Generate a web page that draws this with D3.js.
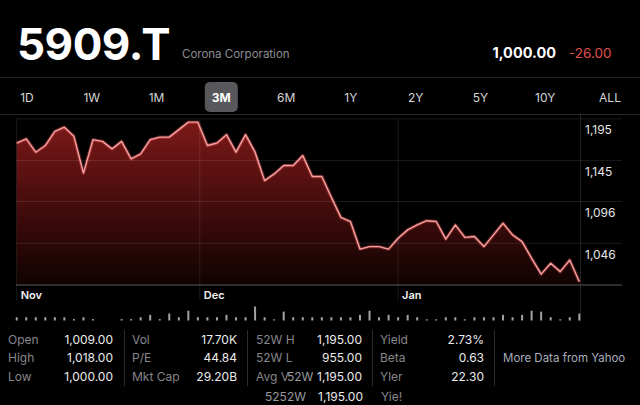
<!DOCTYPE html>
<html>
<head>
<meta charset="utf-8">
<title>5909.T</title>
<script src="https://d3js.org/d3.v7.min.js"></script>
<style>
  html, body { margin: 0; padding: 0; background: #000; }
  svg { display: block; font-family: Inter, "Noto Sans", sans-serif; }
</style>
</head>
<body>
<div id="chart"></div>
<script>
  // ---- data ----
  var ticker = "5909.T";
  var company = "Corona Corporation";
  var lastPrice = "1,000.00";
  var change = "-26.00";

  var ranges = ["1D", "1W", "1M", "3M", "6M", "1Y", "2Y", "5Y", "10Y", "ALL"];
  var selectedRange = "3M";

  // daily closes, Nov -> Jan
  var prices = [
    1166, 1171, 1155, 1163, 1180, 1185, 1174, 1130, 1170, 1168,
    1159, 1168, 1147, 1153, 1170, 1173, 1173, 1182, 1191, 1191,
    1163, 1166, 1176, 1155, 1176, 1155, 1121, 1129, 1139, 1139,
    1151, 1126, 1126, 1101, 1077, 1072, 1039, 1042, 1042, 1039,
    1052, 1062, 1068, 1073, 1072, 1051, 1068, 1053, 1054, 1042,
    1056, 1070, 1056, 1048, 1028, 1009, 1022, 1012, 1026, 1000
  ];

  // daily volume (K shares)
  var volumes = [
    14, 14, 14, 14, 14, 14, 6, 14, 6, 0,
    0, 6, 6, 14, 24, 6, 30, 14, 42, 14,
    14, 14, 24, 14, 14, 60, 14, 5, 38, 14,
    14, 14, 14, 14, 14, 14, 24, 42, 14, 24,
    14, 24, 14, 5, 5, 14, 14, 5, 14, 14,
    14, 24, 14, 24, 42, 38, 14, 5, 14, 30
  ];

  var monthLabels = ["Nov", "Dec", "Jan"];
  var monthIndex = [0, 19.2, 40.0];

  var yTicks = [1195, 1145, 1096, 1046];

  var col1Labels = ["Open", "High", "Low"];
  var col1Values = ["1,009.00", "1,018.00", "1,000.00"];
  var col2Labels = ["Vol", "P/E", "Mkt Cap"];
  var col2Values = ["17.70K", "44.84", "29.20B"];
  var col3Labels = ["52W H", "52W L", "Avg V"];
  var col3Values = ["1,195.00", "955.00", "1,195.00"];
  var col4Labels = ["Yield", "Beta", "Yler"];
  var col4Values = ["2.73%", "0.63", "22.30"];
  var moreText = "More Data from Yahoo";

  // ---- layout ----
  const width = 640, height = 405;

  var svg = d3.select("#chart").append("svg")
    .attr("width", width)
    .attr("height", height);

  svg.append("rect").attr("width", width).attr("height", height).attr("fill", "#000");

  // header
  svg.append("text")
    .attr("x", 17).attr("y", 60)
    .attr("fill", "#fff")
    .attr("font-size", 44).attr("font-weight", 700)
    .attr("letter-spacing", -0.5)
    .text(ticker);

  svg.append("text")
    .attr("x", 182).attr("y", 58)
    .attr("fill", "#8e8e93")
    .attr("font-size", 11.5)
    .text(company);

  svg.append("text")
    .attr("x", 556).attr("y", 58)
    .attr("text-anchor", "end")
    .attr("fill", "#fff")
    .attr("font-size", 14.5).attr("font-weight", 700)
    .text(lastPrice);

  svg.append("text")
    .attr("x", 569).attr("y", 58)
    .attr("fill", "#e0524c")
    .attr("font-size", 13.5)
    .text(change);

  // separators
  svg.append("line").attr("x1", 0).attr("x2", width).attr("y1", 77.5).attr("y2", 77.5)
    .attr("stroke", "#262628");
  svg.append("line").attr("x1", 0).attr("x2", width).attr("y1", 114.5).attr("y2", 114.5)
    .attr("stroke", "#262628");

  // range selector
  var rangeX = d3.scalePoint().domain(ranges).range([27, 610]);

  svg.append("rect")
    .attr("x", rangeX(selectedRange) - 16.5).attr("y", 82)
    .attr("width", 33).attr("height", 30)
    .attr("rx", 5)
    .attr("fill", "#58585c");

  svg.append("g").selectAll("text")
    .data(ranges)
    .join("text")
      .attr("x", function(d) { return rangeX(d); })
      .attr("y", 101.5)
      .attr("text-anchor", "middle")
      .attr("font-size", 12)
      .attr("font-weight", function(d) { return d === selectedRange ? 700 : 400; })
      .attr("fill", function(d) { return d === selectedRange ? "#fff" : "#d6d6d6"; })
      .text(function(d) { return d; });

  // ---- price chart ----
  var xScale = d3.scaleLinear()
    .domain([0, prices.length - 1])
    .range([16.7, 579.3]);

  var yScale = d3.scaleLinear()
    .domain([996, 1195])
    .range([285, 118.8]);

  var defs = svg.append("defs");
  var grad = defs.append("linearGradient")
    .attr("id", "fillGrad")
    .attr("gradientUnits", "userSpaceOnUse")
    .attr("x1", 0).attr("x2", 0)
    .attr("y1", yScale(1195)).attr("y2", yScale(996));
  grad.append("stop").attr("offset", 0).attr("stop-color", "#7e1919");
  grad.append("stop").attr("offset", 0.45).attr("stop-color", "#4d0e0e");
  grad.append("stop").attr("offset", 1).attr("stop-color", "#100202");

  var area = d3.area()
    .x(function(d, i) { return xScale(i); })
    .y0(yScale(996))
    .y1(function(d) { return yScale(d); });

  svg.append("path")
    .datum(prices)
    .attr("fill", "url(#fillGrad)")
    .attr("d", area);

  // horizontal grid lines, drawn over the fill
  svg.append("g").selectAll("line")
    .data(yTicks)
    .join("line")
      .attr("x1", 16).attr("x2", 622)
      .attr("y1", function(d) { return yScale(d); })
      .attr("y2", function(d) { return yScale(d); })
      .attr("stroke", "#ffffff")
      .attr("stroke-opacity", 0.1);

  // month lines
  svg.append("g").selectAll("line")
    .data(monthIndex)
    .join("line")
      .attr("x1", function(d) { return xScale(d); })
      .attr("x2", function(d) { return xScale(d); })
      .attr("y1", yScale(1195))
      .attr("y2", 300)
      .attr("stroke", "#ffffff")
      .attr("stroke-opacity", 0.1);

  // right edge line
  svg.append("line")
    .attr("x1", 580.5).attr("x2", 580.5)
    .attr("y1", 114.5).attr("y2", 322)
    .attr("stroke", "#ffffff").attr("stroke-opacity", 0.12);

  // bottom axis line
  svg.append("line")
    .attr("x1", 16).attr("x2", 622)
    .attr("y1", yScale(996)).attr("y2", yScale(996))
    .attr("stroke", "#5a5a5e");

  var line = d3.line()
    .x(function(d, i) { return xScale(i); })
    .y(function(d) { return yScale(d); });

  svg.append("path")
    .datum(prices)
    .attr("fill", "none")
    .attr("stroke", "#ff5a5a")
    .attr("stroke-opacity", 0.35)
    .attr("stroke-width", 3.5)
    .attr("stroke-linejoin", "round")
    .attr("d", line);

  svg.append("path")
    .datum(prices)
    .attr("fill", "none")
    .attr("stroke", "#f4a2a2")
    .attr("stroke-width", 1.4)
    .attr("stroke-linejoin", "round")
    .attr("d", line);

  // y labels, sitting under their grid line
  svg.append("g").selectAll("text")
    .data(yTicks)
    .join("text")
      .attr("x", 585)
      .attr("y", function(d) { return yScale(d) + 15.5; })
      .attr("fill", "#e6e6e6")
      .attr("font-size", 12)
      .text(function(d) { return d3.format(",")(d); });

  // month labels
  svg.append("g").selectAll("text")
    .data(monthLabels)
    .join("text")
      .attr("x", function(d, i) { return xScale(monthIndex[i]) + 4; })
      .attr("y", 299)
      .attr("fill", "#f0f0f0")
      .attr("font-size", 11).attr("font-weight", 600)
      .text(function(d) { return d; });

  // ---- volume bars ----
  var vScale = d3.scaleLinear().domain([0, 60]).range([0, 14]);
  var volBase = 320.5;

  svg.append("g").selectAll("rect")
    .data(volumes)
    .join("rect")
      .attr("x", function(d, i) { return xScale(i) - 1; })
      .attr("y", function(d) { return volBase - vScale(d); })
      .attr("width", 2)
      .attr("height", function(d) { return vScale(d); })
      .attr("fill", "#a2a2a6");

  // ---- stats table ----
  var rowY = [343.5, 362, 381];
  var labelColor = "#86868b", valueColor = "#ececec";
  var tableSize = 12;

  function statColumn(labels, values, lx, vx) {
    var g = svg.append("g").attr("font-size", tableSize);
    g.selectAll("text.lab")
      .data(labels)
      .join("text")
        .attr("class", "lab")
        .attr("x", lx)
        .attr("y", function(d, i) { return rowY[i]; })
        .attr("fill", labelColor)
        .text(function(d) { return d; });
    g.selectAll("text.val")
      .data(values)
      .join("text")
        .attr("class", "val")
        .attr("x", vx)
        .attr("y", function(d, i) { return rowY[i]; })
        .attr("text-anchor", "end")
        .attr("fill", valueColor)
        .text(function(d) { return d; });
    return g;
  }

  statColumn(col1Labels, col1Values, 8, 113);
  statColumn(col2Labels, col2Values, 132, 237);
  var col3 = statColumn(col3Labels, col3Values, 256, 362);
  statColumn(col4Labels, col4Values, 380, 484);

  // glitched overlay seen in the screenshot: "Avg V" runs into "52W"
  col3.selectAll("text.lab").filter(function(d, i) { return i === 2; })
    .append("tspan")
      .attr("dx", -2)
      .attr("fill", "#9a9a9e")
      .text("52W");

  svg.append("text")
    .attr("x", 265).attr("y", 400.5)
    .attr("font-size", tableSize).attr("fill", "#9a9a9e")
    .text("5252W");
  svg.append("text")
    .attr("x", 363).attr("y", 400.5)
    .attr("text-anchor", "end")
    .attr("font-size", tableSize).attr("fill", valueColor)
    .text("1,195.00");
  svg.append("text")
    .attr("x", 381).attr("y", 400.5)
    .attr("font-size", tableSize).attr("fill", labelColor)
    .text("Yie!");

  // column separators
  svg.append("g").selectAll("line")
    .data([124, 247, 372, 494])
    .join("line")
      .attr("x1", function(d) { return d + 0.5; })
      .attr("x2", function(d) { return d + 0.5; })
      .attr("y1", 330).attr("y2", 386)
      .attr("stroke", "#2a2a2c");

  svg.append("text")
    .attr("x", 503).attr("y", 362)
    .attr("font-size", 11.5)
    .attr("fill", "#a9aebb")
    .text(moreText);
</script>
</body>
</html>
